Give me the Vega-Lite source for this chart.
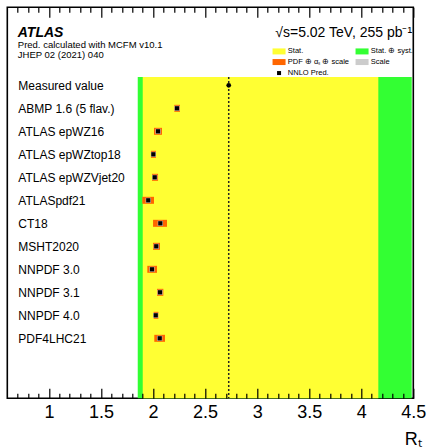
{
  "$schema": "https://vega.github.io/schema/vega-lite/v6.json",
  "width": 406,
  "height": 391,
  "autosize": {"type": "none"},
  "padding": {"left": 7.3, "top": 7.3, "right": 15.7, "bottom": 49.7},
  "background": "white",
  "config": {
    "font": "Liberation Sans",
    "view": {"stroke": "black", "strokeWidth": 1.6}
  },
  "datasets": {
    "bands": [
      {"kind": "Stat. ⊕ syst.", "lo": 1.853, "hi": 4.485},
      {"kind": "Stat.", "lo": 1.901, "hi": 4.164}
    ],
    "meas": [{"pdf": "Measured value", "r": 2.727}],
    "preds": [
      {"pdf": "ABMP 1.6 (5 flav.)", "r": 2.230, "lo": 2.204, "hi": 2.259, "slo": 2.205, "shi": 2.255},
      {"pdf": "ATLAS epWZ16", "r": 2.048, "lo": 2.009, "hi": 2.086, "slo": 2.023, "shi": 2.073},
      {"pdf": "ATLAS epWZtop18", "r": 2.003, "lo": 1.980, "hi": 2.028, "slo": 1.978, "shi": 2.028},
      {"pdf": "ATLAS epWZVjet20", "r": 2.016, "lo": 1.990, "hi": 2.048, "slo": 1.991, "shi": 2.041},
      {"pdf": "ATLASpdf21", "r": 1.954, "lo": 1.897, "hi": 2.009, "slo": 1.929, "shi": 1.979},
      {"pdf": "CT18", "r": 2.070, "lo": 2.000, "hi": 2.134, "slo": 2.045, "shi": 2.095},
      {"pdf": "MSHT2020", "r": 2.031, "lo": 2.000, "hi": 2.067, "slo": 2.006, "shi": 2.056},
      {"pdf": "NNPDF 3.0", "r": 1.990, "lo": 1.945, "hi": 2.038, "slo": 1.965, "shi": 2.015},
      {"pdf": "NNPDF 3.1", "r": 2.067, "lo": 2.038, "hi": 2.099, "slo": 2.042, "shi": 2.092},
      {"pdf": "NNPDF 4.0", "r": 2.026, "lo": 2.006, "hi": 2.051, "slo": 2.001, "shi": 2.051},
      {"pdf": "PDF4LHC21", "r": 2.064, "lo": 2.012, "hi": 2.115, "slo": 2.039, "shi": 2.089}
    ]
  },
  "resolve": {"axis": {"x": "independent"}},
  "layer": [
    {
      "data": {"name": "bands"},
      "mark": {"type": "rect", "yOffset": -8.3},
      "encoding": {
        "x": {
          "field": "lo", "type": "quantitative",
          "scale": {"domain": [0.6, 4.5], "nice": false, "zero": false},
          "axis": {
            "orient": "top", "labels": false, "ticks": false, "domain": false, "grid": false,
            "title": ["Pred. calculated with MCFM v10.1", "JHEP 02 (2021) 040"],
            "titleFontSize": 9.5, "titleFontWeight": "normal", "titleColor": "black",
            "titleAlign": "left", "titleAnchor": "start", "titleBaseline": "top", "titleLineHeight": 10,
            "titleX": 10, "titleY": 32
          }
        },
        "x2": {"field": "hi"},
        "y": {
          "datum": "Measured value", "type": "nominal",
          "scale": {"type": "point", "padding": 1, "align": 0.696, "domain": [" ", "  ", "Measured value", "ABMP 1.6 (5 flav.)", "ATLAS epWZ16", "ATLAS epWZtop18", "ATLAS epWZVjet20", "ATLASpdf21", "CT18", "MSHT2020", "NNPDF 3.0", "NNPDF 3.1", "NNPDF 4.0", "PDF4LHC21", "   ", "    "]},
          "axis": {
            "orient": "left", "domain": false, "ticks": false, "tickSize": 0, "grid": false,
            "labelAlign": "left", "labelBaseline": "middle", "labelPadding": -10.5, "labelFontSize": 12, "labelColor": "black",
            "title": "ATLAS", "titleAngle": 0, "titleFontSize": 14, "titleFontStyle": "italic", "titleFontWeight": "bold", "titleColor": "black",
            "titleAlign": "left", "titleBaseline": "alphabetic", "titleX": 10, "titleY": 29.4
          }
        },
        "y2": {"value": "height"},
        "color": {
          "field": "kind", "type": "nominal",
          "scale": {"domain": ["Stat.", "Stat. ⊕ syst.", "PDF ⊕ αₛ ⊕ scale", "Scale", "NNLO Pred."], "range": ["#ffff33", "#33ff33", "#ff6600", "#cccccc", "#000000"]},
          "legend": {
            "orient": "none", "legendX": 268, "legendY": 19, "columns": 2, "direction": "horizontal", "padding": 0,
            "title": "√s=5.02 TeV, 255 pb⁻¹", "titleFontSize": 14, "titleFontWeight": "normal", "titleColor": "black", "titleAnchor": "start", "titlePadding": 7, "titleLimit": 300,
            "labelFontSize": 7.5, "labelColor": "black", "labelOffset": 5, "labelLimit": 200, "columnPadding": 6, "rowPadding": 2,
            "symbolSize": 36, "symbolType": "M-2.17,-1H2.17V1H-2.17Z", "symbolStrokeWidth": 0, "symbolOpacity": 1,
            "encode": {"symbols": {"update": {"shape": {"signal": "datum.value === 'NNLO Pred.' ? 'M-0.67,-0.67H0.67V0.67H-0.67Z' : 'M-2.17,-1H2.17V1H-2.17Z'"}}}}
          }
        }
      }
    },
    {
      "data": {"name": "meas"},
      "mark": {"type": "rule", "strokeDash": [2, 2], "strokeWidth": 1.5, "color": "#222222", "yOffset": -8.3},
      "encoding": {
        "x": {"field": "r", "type": "quantitative", "axis": null},
        "y": {"datum": "Measured value", "type": "nominal"},
        "y2": {"value": "height"}
      }
    },
    {
      "data": {"name": "meas"},
      "mark": {"type": "circle", "size": 22, "color": "black", "opacity": 1},
      "encoding": {
        "x": {"field": "r", "type": "quantitative", "axis": null},
        "y": {"field": "pdf", "type": "nominal"}
      }
    },
    {
      "data": {"name": "preds"},
      "mark": {"type": "bar", "size": 7},
      "encoding": {
        "x": {
          "field": "lo", "type": "quantitative",
          "axis": {
            "orient": "bottom", "domain": false, "ticks": false, "tickSize": 0, "zindex": 1,
            "values": [0.7,0.8,0.9,1,1.1,1.2,1.3,1.4,1.5,1.6,1.7,1.8,1.9,2,2.1,2.2,2.3,2.4,2.5,2.6,2.7,2.8,2.9,3,3.1,3.2,3.3,3.4,3.5,3.6,3.7,3.8,3.9,4,4.1,4.2,4.3,4.4,4.5],
            "format": "~g",
            "labelExpr": "abs(round(datum.value*2)-datum.value*2)<0.001 ? datum.label : ''",
            "labelOverlap": false, "labelFlush": false,
            "labelFontSize": 18, "labelColor": "black", "labelPadding": 5,
            "grid": true, "gridColor": "black", "gridOpacity": 1, "gridWidth": 1.2,
            "gridDash": {"condition": {"test": "abs(round(datum.value*2)-datum.value*2)<0.001", "value": [10, 371, 10]}, "value": [5, 381, 5]},
            "title": "Rₜ", "titleFontSize": 18, "titleFontWeight": "normal", "titleColor": "black",
            "titleAlign": "right", "titleBaseline": "alphabetic", "titleX": 414, "titleY": 46
          }
        },
        "x2": {"field": "hi"},
        "y": {"field": "pdf", "type": "nominal"},
        "color": {"datum": "PDF ⊕ αₛ ⊕ scale", "type": "nominal"}
      }
    },
    {
      "data": {"name": "preds"},
      "mark": {"type": "bar", "size": 5},
      "encoding": {
        "x": {"field": "slo", "type": "quantitative", "axis": null},
        "x2": {"field": "shi"},
        "y": {"field": "pdf", "type": "nominal"},
        "color": {"datum": "Scale", "type": "nominal"}
      }
    },
    {
      "data": {"name": "preds"},
      "mark": {"type": "point", "shape": "square", "filled": true, "size": 18, "opacity": 1},
      "encoding": {
        "x": {"field": "r", "type": "quantitative", "axis": null},
        "y": {"field": "pdf", "type": "nominal"},
        "color": {"datum": "NNLO Pred.", "type": "nominal"}
      }
    }
  ]
}
